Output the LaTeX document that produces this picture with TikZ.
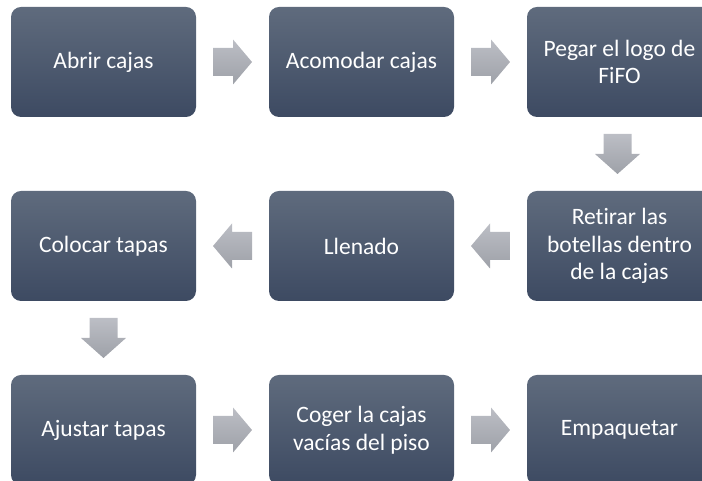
\documentclass[tikz,border=0pt]{standalone}
\usepackage{fontspec}
\setmainfont{Carlito}[Ligatures=NoCommon]
\usetikzlibrary{calc}
\definecolor{boxtop}{RGB}{95,107,125}
\definecolor{boxbot}{RGB}{61,74,98}
\definecolor{arrtop}{RGB}{188,190,197}
\definecolor{arrbot}{RGB}{158,161,168}
\tikzset{
  stepbox/.style={rectangle, rounded corners=10pt, minimum width=185pt, minimum height=110pt,
    top color=boxtop, bottom color=boxbot, draw=none, text=white, align=center,
    font=\fontsize{23.5}{27.5}\selectfont, inner sep=0pt},
  blockarrow/.style={top color=arrtop, bottom color=arrbot, draw=none}
}
\newcommand{\rightblock}[1]{\path[blockarrow,shift={#1}] (-19.5,-14) -- (0.5,-14) -- (0.5,-22.5) -- (19.5,0) -- (0.5,22.5) -- (0.5,14) -- (-19.5,14) -- cycle;}
\newcommand{\leftblock}[1]{\path[blockarrow,shift={#1}] (19.5,-14) -- (-0.5,-14) -- (-0.5,-22.5) -- (-19.5,0) -- (-0.5,22.5) -- (-0.5,14) -- (19.5,14) -- cycle;}
\newcommand{\downblock}[1]{\path[blockarrow,shift={#1}] (-14,20) -- (-14,0) -- (-22.5,0) -- (0,-20) -- (22.5,0) -- (14,0) -- (14,20) -- cycle;}
\begin{document}
\begin{tikzpicture}[x=1pt,y=1pt]
\path[use as bounding box] (0,0) rectangle (702,481);
\clip (0,0) rectangle (702,481);
\node[stepbox] (a1) at (103.5,419) {Abrir cajas};
\node[stepbox] (a2) at (361.5,419) {Acomodar cajas};
\node[stepbox] (a3) at (619.5,419) {Pegar el logo de\\FiFO};
\node[stepbox] (b3) at (619.5,235) {Retirar las\\botellas dentro\\de la cajas};
\node[stepbox] (b2) at (361.5,235) {Llenado};
\node[stepbox] (b1) at (103.5,235) {Colocar tapas};
\node[stepbox] (c1) at (103.5,51) {Ajustar tapas};
\node[stepbox] (c2) at (361.5,51) {Coger la cajas\\vacías del piso};
\node[stepbox] (c3) at (619.5,51) {Empaquetar};
\rightblock{($(a1.east)!0.5!(a2.west)$)}
\rightblock{($(a2.east)!0.5!(a3.west)$)}
\downblock{($(a3.south)!0.5!(b3.north)+(-2,0)$)}
\leftblock{($(b3.west)!0.5!(b2.east)$)}
\leftblock{($(b2.west)!0.5!(b1.east)$)}
\downblock{($(b1.south)!0.5!(c1.north)$)}
\rightblock{($(c1.east)!0.5!(c2.west)$)}
\rightblock{($(c2.east)!0.5!(c3.west)$)}
\end{tikzpicture}
\end{document}
